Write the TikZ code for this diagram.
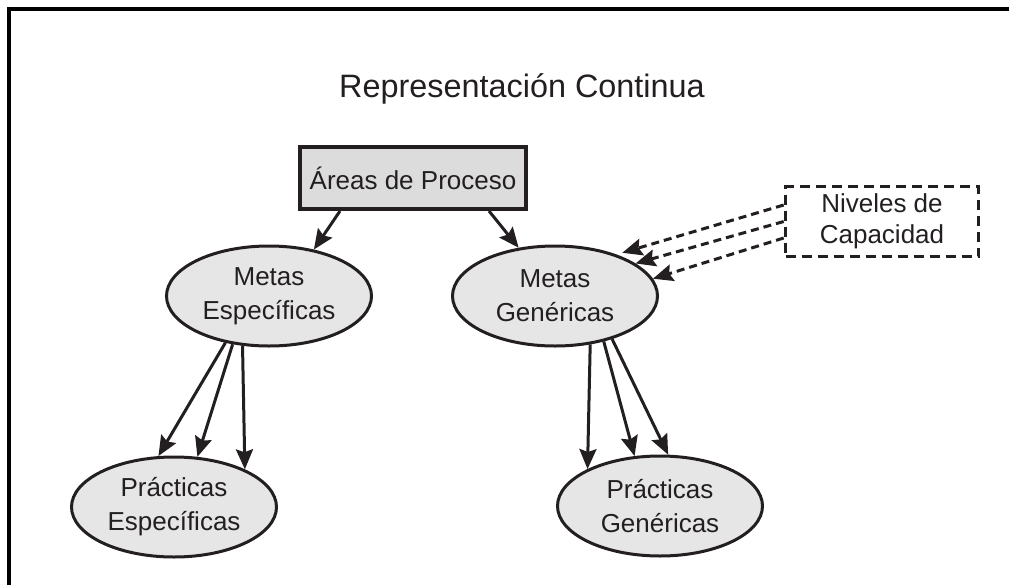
\documentclass[tikz,border=0pt]{standalone}
\usepackage{fontspec}
\setmainfont{Liberation Sans}
\usetikzlibrary{shapes.geometric,arrows.meta}
\definecolor{boxgray}{HTML}{DCDCDC}
\definecolor{ovalgray}{HTML}{E6E6E6}
\definecolor{ink}{HTML}{231F20}
\begin{document}
\begin{tikzpicture}[x=0.5pt,y=-0.5pt,
  txt/.style={font=\fontsize{13}{17}\selectfont, text=ink, align=center},
  oval/.style={txt, ellipse, draw=ink, line width=1.5pt, fill=ovalgray,
    inner sep=0pt, minimum width=102.5pt, minimum height=50pt},
  procbox/.style={txt, rectangle, draw=ink, line width=2pt, fill=boxgray,
    minimum width=113pt, minimum height=31pt, inner sep=0pt},
  levelbox/.style={txt, font=\fontsize{13}{15.5}\selectfont, rectangle, draw=ink,
    line width=1.8pt, dash pattern=on 5pt off 3pt,
    minimum width=96.5pt, minimum height=35pt, inner sep=0pt},
  link/.style={draw=ink, line width=1.5pt,
    -{Stealth[length=10pt,width=8.5pt,inset=1.5pt]}},
  dlink/.style={link, dash pattern=on 4pt off 2.5pt}
]
\useasboundingbox (0,0) rectangle (1009,585);
% frame
\draw[line width=2pt] (8.5,585) -- (8.5,8.5) -- (1009,8.5);

% nodes
\node[txt, font=\fontsize{16.2}{19}\selectfont] (title) at (522,89) {Representación Continua};
\node[procbox] (areas) at (413,178) {Áreas de Proceso};
\node[oval] (me) at (269,296) {Metas\\Específicas};
\node[oval] (mg) at (555,296) {Metas\\Genéricas};
\node[oval] (pe) at (174,507) {Prácticas\\Específicas};
\node[oval] (pg) at (660,506) {Prácticas\\Genéricas};
\node[levelbox] (niv) at (882,221.5) {Niveles de\\Capacidad};

% process areas to goals
\draw[link] ([xshift=-36.5pt]areas.south) -- (me.46.8);
\draw[link] ([xshift=38pt]areas.south) -- (mg.127);

% capability levels to generic goals
\draw[dlink, shorten >=3pt] ([yshift=8.25pt]niv.west) -- (mg.34.5);
\draw[dlink] (niv.west) -- (mg.22.9);
\draw[dlink] ([yshift=-8.25pt]niv.west) -- (mg.10);

% specific goals to specific practices
\draw[link] (me.-133.8) -- (pe.107.2);
\draw[link] (me.-127.1) -- (pe.65.5);
\draw[link] (me.-118) -- (pe.28);

% generic goals to generic practices
\draw[link] (mg.-54) -- (pg.153.1);
\draw[link] (mg.-43.3) -- (pg.117.4);
\draw[link] (mg.-37) -- (pg.81.9);
\end{tikzpicture}
\end{document}
